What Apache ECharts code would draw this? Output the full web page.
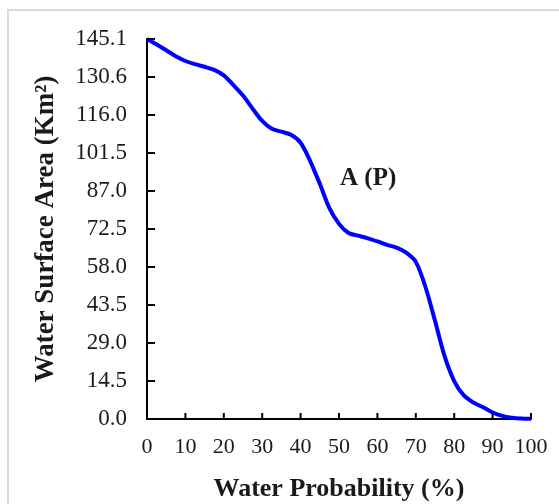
<!DOCTYPE html>
<html>
<head>
<meta charset="utf-8">
<script src="https://cdn.jsdelivr.net/npm/echarts@6/dist/echarts.min.js"></script>
<style>
html,body{margin:0;padding:0;background:#fff;}
#chart{width:559px;height:504px;}
</style>
</head>
<body>
<div id="chart"></div>
<script>
// Water probability (%) positions
const probX = [0, 2.5, 5, 7.5, 10, 12.5, 15, 17.5, 20, 22.5, 25, 27.5, 30, 32.5, 35, 37.5, 40, 42.5, 45, 47.5, 50, 52.5, 55, 57.5, 60, 62.5, 65, 67.5, 70, 72.5, 75, 77.5, 80, 82.5, 85, 87.5, 90, 92.5, 95, 97.5, 100];
// Water surface area (Km²)
const areaY = [145.1, 143.0, 140.8, 138.5, 136.7, 135.5, 134.5, 133.3, 131.2, 127.5, 123.5, 118.5, 113.8, 110.8, 109.7, 108.5, 105.5, 98.5, 89.8, 80.5, 74.5, 71.0, 70.0, 69.0, 67.8, 66.5, 65.4, 63.5, 60.0, 50.5, 37.5, 24.0, 14.5, 9.0, 6.3, 4.5, 2.5, 1.2, 0.5, 0.2, 0.1];
const yTickLabels = ['0.0', '14.5', '29.0', '43.5', '58.0', '72.5', '87.0', '101.5', '116.0', '130.6', '145.1'];
const xTickLabels = ['0', '10', '20', '30', '40', '50', '60', '70', '80', '90', '100'];
const seriesLabel = 'A (P)';

const yMax = 145.1;
const yStep = 14.51;
const serif = '"Liberation Serif", "Times New Roman", serif';

const chart = echarts.init(document.getElementById('chart'));
const pts = probX.map((x, i) => [x, areaY[i]]);

// inward tick marks, positioned through the axes' own scales
const xTickData = xTickLabels.map(t => [Number(t), 0]);
const yTickData = yTickLabels.map((t, i) => [0, i * yStep]);
function tickRenderer(dx, dy) {
  return function (params, api) {
    const p = api.coord([api.value(0), api.value(1)]);
    return {
      type: 'line',
      shape: { x1: p[0], y1: p[1], x2: p[0] + dx, y2: p[1] + dy },
      style: { stroke: '#000', lineWidth: 2 }
    };
  };
}

chart.setOption({
  animation: false,
  backgroundColor: '#ffffff',
  grid: { left: 147, right: 28, top: 39, bottom: 85, containLabel: false, outerBoundsMode: 'none' },
  xAxis: {
    type: 'value', min: 0, max: 100, interval: 10,
    name: 'Water Probability (%)', nameLocation: 'middle', nameGap: 57,
    nameTextStyle: { fontFamily: serif, fontSize: 26, fontWeight: 'bold', color: '#1a1a1a' },
    axisLine: { show: true, onZero: false, lineStyle: { color: '#000', width: 2 } },
    axisTick: { show: false },
    axisLabel: { fontFamily: serif, fontSize: 22, color: '#1a1a1a', margin: 17,
      formatter: v => xTickLabels[Math.round(v / 10)] },
    splitLine: { show: false }
  },
  yAxis: {
    type: 'value', min: 0, max: yMax, interval: yStep,
    name: 'Water Surface Area (Km²)', nameLocation: 'middle', nameGap: 87,
    nameTextStyle: { fontFamily: serif, fontSize: 27, fontWeight: 'bold', color: '#1a1a1a' },
    axisLine: { show: true, onZero: false, lineStyle: { color: '#000', width: 2 } },
    axisTick: { show: false },
    axisLabel: { fontFamily: serif, fontSize: 23, color: '#1a1a1a', margin: 20,
      formatter: v => yTickLabels[Math.round(v / yStep)] },
    splitLine: { show: false }
  },
  graphic: [
    { type: 'rect', shape: { x: 8, y: 10, width: 600, height: 600 },
      style: { fill: 'none', stroke: '#d9d9d9', lineWidth: 2 }, silent: true, z: -1 },
    { type: 'text', left: 340, top: 166,
      style: { text: seriesLabel, fontFamily: serif, fontSize: 25, fontWeight: 'bold', fill: '#1a1a1a' } }
  ],
  series: [
    {
      type: 'line', data: pts, smooth: 0.3,
      showSymbol: false, symbol: 'none',
      lineStyle: { color: '#0000ff', width: 4 }, z: 3
    },
    { type: 'custom', data: xTickData, renderItem: tickRenderer(0, -6), clip: false, silent: true, z: 4 },
    { type: 'custom', data: yTickData, renderItem: tickRenderer(8, 0), clip: false, silent: true, z: 4 }
  ]
});
</script>
</body>
</html>
